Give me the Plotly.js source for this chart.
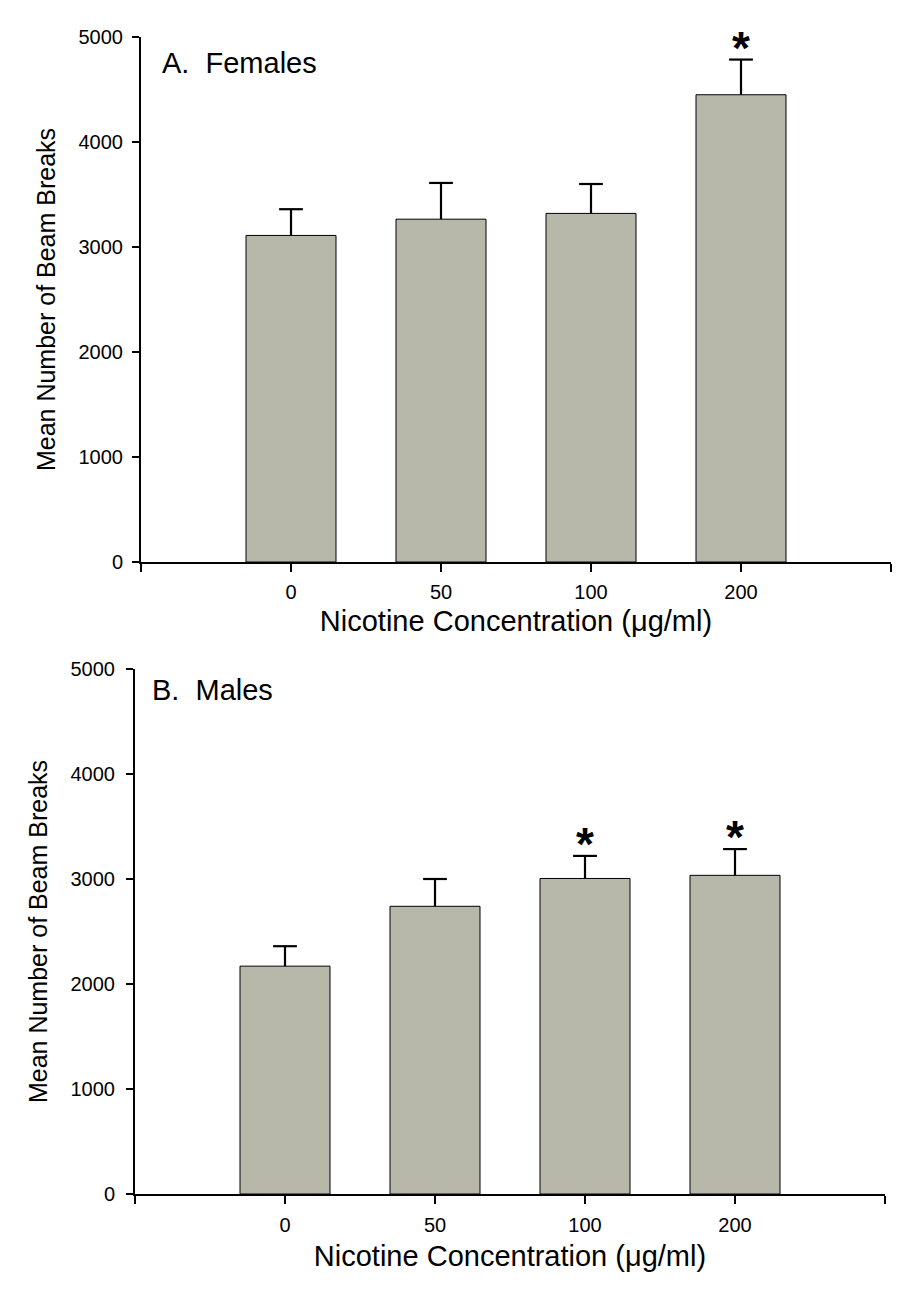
<!DOCTYPE html>
<html>
<head>
<meta charset="utf-8">
<script src="https://cdn.plot.ly/plotly-3.0.1.min.js"></script>
<style>html,body{margin:0;padding:0;background:#fff;}#chart{width:912px;height:1296px;}</style>
</head>
<body>
<div id="chart"></div>
<script>
// Data
const concentrations = ['0', '50', '100', '200'];
const femaleMeans = [3110, 3265, 3320, 4450];
const femaleSEM = [250, 345, 280, 335];
const femaleSig = [false, false, false, true];
const maleMeans = [2170, 2740, 3005, 3035];
const maleSEM = [190, 260, 215, 250];
const maleSig = [false, false, true, true];
const yTicks = [0, 1000, 2000, 3000, 4000, 5000];
const panelLabels = ['A.\u00a0\u00a0Females', 'B.\u00a0\u00a0Males'];
const xTitle = 'Nicotine Concentration (\u03bcg/ml)';
const yTitle = 'Mean Number of Beam Breaks';

const idx = concentrations.map((c, i) => i);
const FONT = 'Liberation Sans, Arial, sans-serif';
const barColor = 'rgb(184,184,170)';

function barTrace(means, xa, ya) {
  return {
    type: 'bar', x: idx, y: means, xaxis: xa, yaxis: ya, width: 0.6,
    marker: {color: barColor, line: {color: '#000', width: 1}},
    hoverinfo: 'skip', showlegend: false
  };
}
// upward-only error bars: stem from the bar top, cap only at the top end
function errTrace(means, sem, xa, ya) {
  return {
    type: 'scatter', mode: 'markers', x: idx, y: means.map((m, i) => m + sem[i]),
    xaxis: xa, yaxis: ya,
    marker: {symbol: 'line-ew', size: 17, line: {color: '#000', width: 2.2}, color: '#000'},
    error_y: {type: 'data', symmetric: false, array: sem.map(() => 0), arrayminus: sem,
              color: '#000', thickness: 2.2, width: 0},
    hoverinfo: 'skip', showlegend: false
  };
}

const xTickVals = [-1].concat(idx, [concentrations.length]);
const xTickText = [''].concat(concentrations, ['']);

function xAxis(domain, anchor, standoff) {
  return {
    domain: domain, anchor: anchor, range: [-1, concentrations.length],
    tickmode: 'array', tickvals: xTickVals, ticktext: xTickText,
    ticks: 'outside', ticklen: 8, tickwidth: 2, tickcolor: '#000',
    showline: true, linecolor: '#000', linewidth: 2, showgrid: false, zeroline: false,
    tickfont: {family: FONT, size: 20, color: '#000'},
    title: {text: xTitle, font: {family: FONT, size: 29, color: '#000'}, standoff: standoff}
  };
}
function yAxis(domain, anchor) {
  return {
    domain: domain, anchor: anchor, range: [0, 5000],
    tickmode: 'array', tickvals: yTicks, ticktext: yTicks.map(String),
    ticks: 'outside', ticklen: 7, tickwidth: 2, tickcolor: '#000',
    showline: true, linecolor: '#000', linewidth: 2, showgrid: false, zeroline: false,
    tickfont: {family: FONT, size: 20, color: '#000'},
    title: {text: yTitle, font: {family: FONT, size: 25, color: '#000'}, standoff: 16}
  };
}

const annotations = [];
function addStars(means, sem, sig, xa, ya) {
  sig.forEach((s, i) => {
    if (s) annotations.push({
      x: idx[i], y: means[i] + sem[i], xref: xa, yref: ya, text: '<b>*</b>', showarrow: false,
      yanchor: 'middle', yshift: 12, font: {family: FONT, size: 46, color: '#000'}
    });
  });
}
addStars(femaleMeans, femaleSEM, femaleSig, 'x', 'y');
addStars(maleMeans, maleSEM, maleSig, 'x2', 'y2');
annotations.push({x: 0.025, y: 0.985, xref: 'x domain', yref: 'y domain', text: panelLabels[0],
  showarrow: false, xanchor: 'left', yanchor: 'top', font: {family: FONT, size: 29, color: '#000'}});
annotations.push({x: 0.020, y: 0.994, xref: 'x2 domain', yref: 'y2 domain', text: panelLabels[1],
  showarrow: false, xanchor: 'left', yanchor: 'top', font: {family: FONT, size: 29, color: '#000'}});

const data = [
  barTrace(femaleMeans, 'x', 'y'),
  errTrace(femaleMeans, femaleSEM, 'x', 'y'),
  barTrace(maleMeans, 'x2', 'y2'),
  errTrace(maleMeans, maleSEM, 'x2', 'y2')
];

const layout = {
  width: 912, height: 1296,
  margin: {l: 0, r: 0, t: 0, b: 0},
  paper_bgcolor: '#fff', plot_bgcolor: '#fff',
  xaxis: xAxis([141/912, 891/912], 'y', 9),
  yaxis: yAxis([1 - 562/1296, 1 - 37/1296], 'x'),
  xaxis2: xAxis([135/912, 885/912], 'y2', 11),
  yaxis2: yAxis([1 - 1194/1296, 1 - 669/1296], 'x2'),
  annotations: annotations,
  showlegend: false
};
layout.yaxis.ticklabelstandoff = 5;
layout.yaxis2.ticklabelstandoff = 7;
layout.xaxis.ticklabelstandoff = 3;
layout.xaxis2.ticklabelstandoff = 4;

Plotly.newPlot('chart', data, layout, {displayModeBar: false, staticPlot: true});
</script>
</body>
</html>
